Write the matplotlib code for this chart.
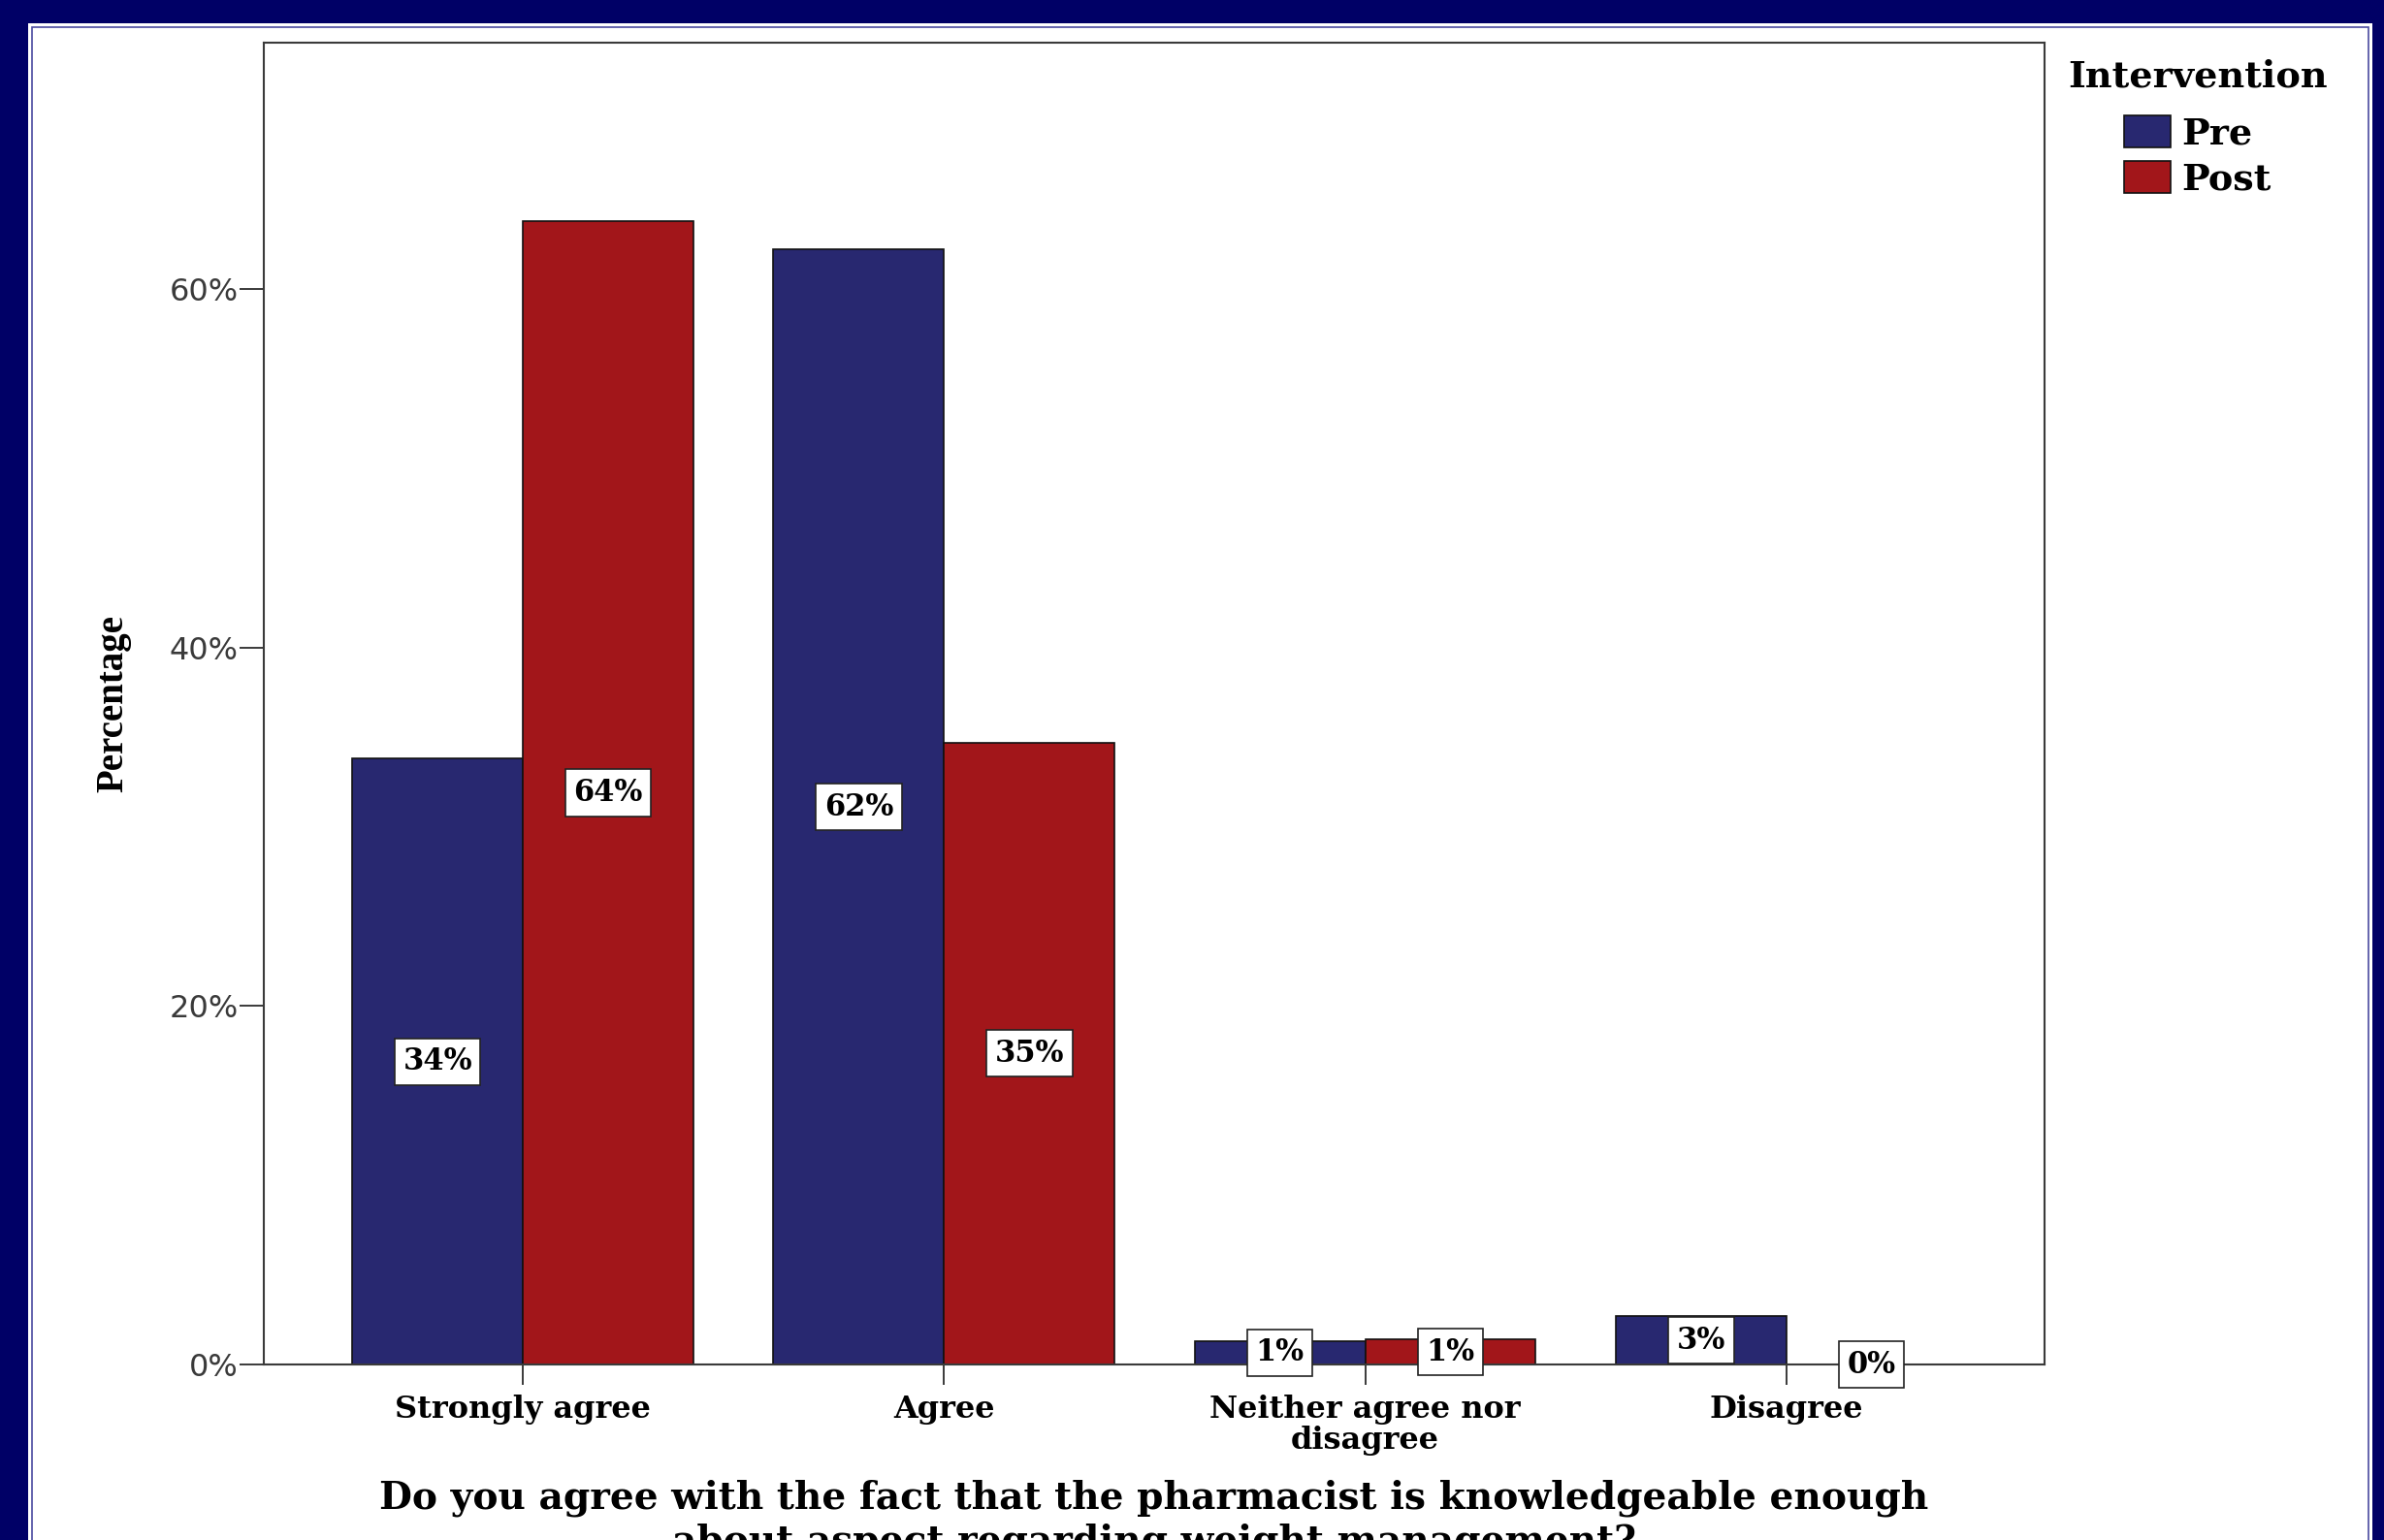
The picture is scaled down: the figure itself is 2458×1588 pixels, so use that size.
import matplotlib
matplotlib.use("Agg")
import matplotlib.pyplot as plt
from matplotlib.patches import Rectangle
import numpy as np

# ---- data ----
categories = ["Strongly agree", "Agree", "Neither agree nor\ndisagree", "Disagree"]
pre_values = [33.8, 62.2, 1.3, 2.7]
post_values = [63.8, 34.7, 1.4, 0.0]
series_names = ["Pre", "Post"]
y_ticks = [0, 20, 40, 60]
y_tick_labels = ["0%", "20%", "40%", "60%"]
legend_title = "Intervention"
y_title = "Percentage"
x_title = ("Do you agree with the fact that the pharmacist is knowledgeable enough\n"
           "about aspect regarding weight management?")

W, H = 2458, 1588
DPI = 100
NAVY = "#000066"
PRE_COLOR = "#282870"
POST_COLOR = "#a2161a"

fig = plt.figure(figsize=(W / DPI, H / DPI), dpi=DPI, facecolor=NAVY)

# white panel with thin inner frame
fig.add_artist(Rectangle((29 / W, 0), (2446 - 29) / W, (H - 24) / H,
                         transform=fig.transFigure, facecolor="white",
                         edgecolor="none", zorder=0))
fig.add_artist(Rectangle((33 / W, -0.01), (2442 - 33) / W, (H - 28) / H + 0.01,
                         transform=fig.transFigure, fill=False,
                         edgecolor="#4a4aa0", lw=1.2, zorder=0.5))

ax = fig.add_axes([272 / W, 1 - 1407 / H, 1836 / W, 1363 / H])
ax.set_facecolor("white")

x = np.arange(len(categories))
w = 0.405
bars_pre = ax.bar(x - w / 2, pre_values, w, color=PRE_COLOR, edgecolor="#111111",
                  linewidth=1.2, label=series_names[0], zorder=2)
bars_post = ax.bar(x + w / 2, post_values, w, color=POST_COLOR, edgecolor="#111111",
                   linewidth=1.2, label=series_names[1], zorder=2)

label_font = dict(family="DejaVu Serif", weight="bold", size=22)
for xs, vals in ((x - w / 2, pre_values), (x + w / 2, post_values)):
    for xi, v in zip(xs, vals):
        ax.text(xi, v / 2, f"{round(v):.0f}%", ha="center", va="center",
                fontdict=label_font, color="black", zorder=5,
                bbox=dict(boxstyle="square,pad=0.28", fc="white", ec="#222222", lw=1.2))

ax.set_xlim(-0.615, 3.613)
ax.set_ylim(0, 73.75)

ax.set_yticks(y_ticks)
ax.set_yticklabels(y_tick_labels, family="DejaVu Sans", size=23, color="#3a3a3a")
ax.set_xticks(x)
ax.set_xticklabels(categories, family="DejaVu Serif", weight="bold", size=23,
                   color="black", linespacing=1.05)
ax.tick_params(axis="y", length=18, width=1.4, color="#3a3a3a", pad=1)
ax.tick_params(axis="x", length=15, width=1.4, color="#3a3a3a", pad=7)

for s in ax.spines.values():
    s.set_color("#3a3a3a")
    s.set_linewidth(1.5)

ax.set_ylabel(y_title, family="Liberation Serif", weight="bold", size=28)
ax.yaxis.label.set_va("center")
ax.yaxis.set_label_coords((117 - 272) / 1836, 0.5)

ax.set_xlabel(x_title, family="DejaVu Serif", weight="bold", size=28.2, linespacing=1.2)
ax.xaxis.set_label_coords(0.5, (1407 - 1526) / 1363)

leg = ax.legend(handles=[bars_pre, bars_post], labels=series_names, title=legend_title,
                frameon=False, loc="upper left",
                bbox_to_anchor=(2132 / W, 1 - 61 / H), bbox_transform=fig.transFigure,
                prop=dict(family="DejaVu Serif", weight="bold", size=27.5),
                title_fontproperties=dict(family="DejaVu Serif", weight="bold", size=27.5),
                borderpad=0, borderaxespad=0, handlelength=1.26, handleheight=0.94,
                handletextpad=0.31, labelspacing=0.26)
leg._legend_box.sep = 15

fig.savefig("out.png", dpi=DPI, facecolor=NAVY)
